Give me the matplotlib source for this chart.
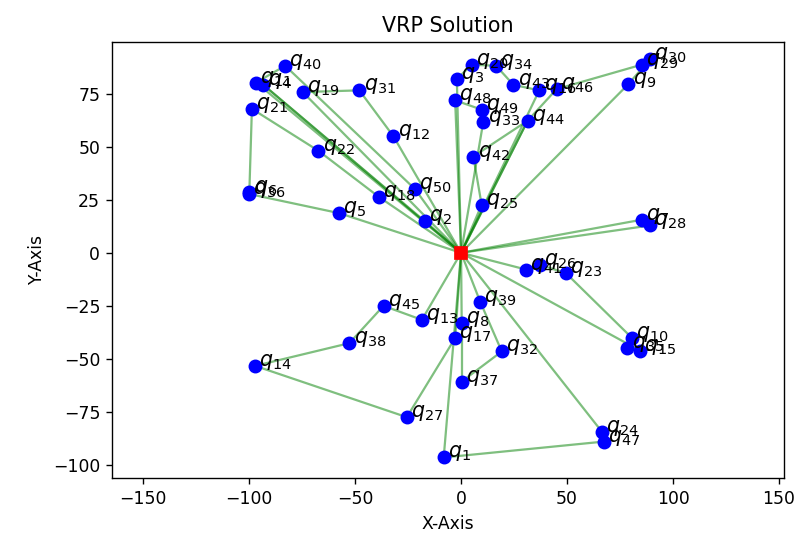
import numpy as np
import matplotlib
matplotlib.use("Agg")
import matplotlib.pyplot as plt

# ── Customer coordinates (index = customer number, 0 = depot) ──────
ids = [1, 2, 3, 4, 5, 6, 7, 8, 9, 10,
       11, 12, 13, 14, 15, 16, 17, 18, 19, 20,
       21, 22, 23, 24, 25, 26, 27, 28, 29, 30,
       31, 32, 33, 34, 35, 36, 37, 38, 39, 40,
       41, 42, 43, 44, 45, 46, 47, 48, 49, 50]
xs = [-8.2, -17.0, -2.0, -93.3, -57.5, -99.9, 85.2, 0.3, 78.9, 80.5,
      -96.7, -31.9, -18.5, -97.2, 84.4, 36.9, -2.8, -38.7, -74.7, 5.0,
      -98.7, -67.3, 49.5, 66.4, 9.7, 37.3, -25.6, 89.2, 85.2, 89.2,
      -48.0, 19.2, 10.5, 16.5, 78.5, -100.3, 0.3, -52.7, 9.0, -83.0,
      30.7, 5.8, 24.7, 31.4, -36.6, 45.1, 67.5, -2.8, 9.7, -21.7]
ys = [-96.5, 14.8, 81.9, 79.2, 18.7, 28.9, 15.6, -33.2, 79.5, -40.0,
      80.3, 54.9, -31.6, -53.3, -46.1, 76.6, -40.2, 26.3, 75.8, 88.7,
      67.9, 48.1, -9.6, -84.3, 22.6, -5.7, -77.5, 12.9, 88.7, 91.4,
      76.6, -46.5, 61.9, 88.2, -45.0, 27.8, -60.7, -42.6, -23.0, 88.2,
      -7.9, 45.4, 79.2, 62.3, -25.0, 77.2, -89.0, 71.9, 67.5, 30.0]

depot = (0, 0)

# ── Routes (each starts and ends at the depot, 0) ──────────────────
routes = [
    [0, 18, 22, 21, 6, 36, 5, 0],
    [0, 2, 4, 0],
    [0, 12, 31, 19, 0],
    [0, 50, 40, 11, 0],
    [0, 48, 49, 33, 0],
    [0, 3, 20, 34, 43, 16, 0],
    [0, 44, 46, 29, 30, 9, 0],
    [0, 25, 42, 44, 0],
    [0, 7, 28, 0],
    [0, 41, 26, 23, 10, 35, 15, 0],
    [0, 39, 32, 37, 8, 0],
    [0, 24, 47, 1, 0],
    [0, 13, 45, 38, 14, 27, 17, 0],
]

coords = {0: depot}
for i, x, y in zip(ids, xs, ys):
    coords[i] = (x, y)

fig, ax = plt.subplots(figsize=(796 / 124, 542 / 124), dpi=124)
fig.subplots_adjust(left=0.141, right=0.985, top=0.9225, bottom=0.118)

for r in routes:
    for a, b in zip(r[:-1], r[1:]):
        ax.plot([coords[a][0], coords[b][0]], [coords[a][1], coords[b][1]],
                c="g", alpha=0.5, lw=1.3, zorder=1)

ax.scatter(xs, ys, c="b", s=50, zorder=2)
ax.plot(depot[0], depot[1], c="r", marker="s", ms=7, zorder=3)

for i, x, y in zip(ids, xs, ys):
    ax.annotate(f"$q_{{{i}}}$", (x + 2, y), fontsize=12)

ax.set_xlabel("X-Axis")
ax.set_ylabel("Y-Axis")
ax.set_title("VRP Solution")
ax.set_xlim(-164.6, 152.4)
ax.set_ylim(-106.2, 99.4)

plt.savefig("out.png", dpi=124)
